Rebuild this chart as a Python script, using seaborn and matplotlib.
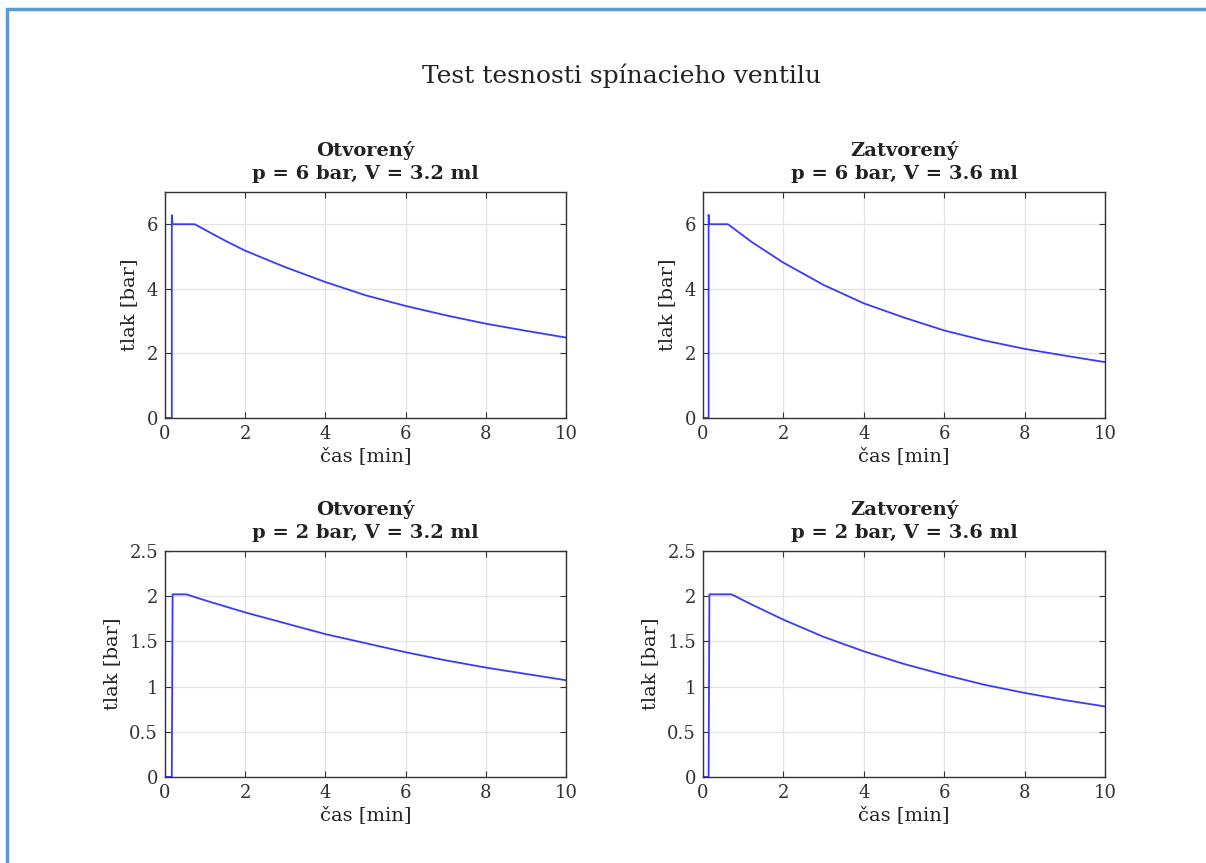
import pandas as pd
import seaborn as sns
import matplotlib.pyplot as plt
from matplotlib.lines import Line2D

# time [min] and pressure [bar]
t_o6 = [0, 0.17, 0.17, 0.19, 0.74, 1.5, 2, 3, 4, 5, 6, 7, 8, 9, 10]
p_o6 = [0, 0, 6.28, 6.0, 6.0, 5.49, 5.18, 4.67, 4.21, 3.80, 3.47, 3.18, 2.92, 2.70, 2.49]

t_z6 = [0, 0.14, 0.14, 0.16, 0.62, 1.2, 2, 3, 4, 5, 6, 7, 8, 9, 10]
p_z6 = [0, 0, 6.29, 6.0, 6.0, 5.46, 4.81, 4.12, 3.55, 3.11, 2.71, 2.40, 2.14, 1.93, 1.73]

t_o2 = [0, 0.17, 0.19, 0.53, 1.1, 2, 3, 4, 5, 6, 7, 8, 9, 10]
p_o2 = [0, 0, 2.02, 2.02, 1.94, 1.82, 1.70, 1.58, 1.48, 1.38, 1.29, 1.21, 1.14, 1.07]

t_z2 = [0, 0.14, 0.16, 0.71, 1.2, 2, 3, 4, 5, 6, 7, 8, 9, 10]
p_z2 = [0, 0, 2.02, 2.02, 1.91, 1.74, 1.55, 1.39, 1.25, 1.13, 1.02, 0.93, 0.85, 0.78]

titles = ["Otvorený\np = 6 bar, V = 3.2 ml", "Zatvorený\np = 6 bar, V = 3.6 ml",
          "Otvorený\np = 2 bar, V = 3.2 ml", "Zatvorený\np = 2 bar, V = 3.6 ml"]
series = [(t_o6, p_o6), (t_z6, p_z6), (t_o2, p_o2), (t_z2, p_z2)]
ylims = [(0, 7), (0, 7), (0, 2.5), (0, 2.5)]
yticks = [[0, 2, 4, 6], [0, 2, 4, 6], [0, 0.5, 1, 1.5, 2, 2.5], [0, 0.5, 1, 1.5, 2, 2.5]]
yticklabels = [["0", "2", "4", "6"], ["0", "2", "4", "6"],
               ["0", "0.5", "1", "1.5", "2", "2.5"], ["0", "0.5", "1", "1.5", "2", "2.5"]]

sns.set_theme(style="whitegrid")
plt.rcParams['font.family'] = ['DejaVu Serif']

fig = plt.figure(figsize=(12.06, 8.63), dpi=100)
fig.patch.set_facecolor("white")

# axes positions [left, bottom, width, height]
pos = [[0.1368, 0.5157, 0.3325, 0.2619],
       [0.5829, 0.5157, 0.3333, 0.2619],
       [0.1368, 0.0997, 0.3325, 0.2619],
       [0.5829, 0.0997, 0.3333, 0.2619]]

for i in range(4):
    ax = fig.add_axes(pos[i])
    df = pd.DataFrame({"t": series[i][0], "p": series[i][1]})
    sns.lineplot(data=df, x="t", y="p", ax=ax, color="#3a3aff", linewidth=1.3,
                 sort=False, estimator=None)
    ax.set_xlim(0, 10)
    ax.set_ylim(*ylims[i])
    ax.set_xticks([0, 2, 4, 6, 8, 10])
    ax.set_xticklabels(["0", "2", "4", "6", "8", "10"])
    ax.set_yticks(yticks[i])
    ax.set_yticklabels(yticklabels[i])
    ax.set_xlabel("čas [min]", fontsize=14, color="#222222", labelpad=3)
    ax.set_ylabel("tlak [bar]", fontsize=14, color="#222222", labelpad=6)
    ax.set_title(titles[i], fontsize=14, fontweight="bold", color="#222222",
                 linespacing=1.4, pad=9)
    ax.grid(True, color="#e3e3e3", linewidth=0.9)
    for s in ax.spines.values():
        s.set_visible(True)
        s.set_color("#333333")
        s.set_linewidth(1.0)
    ax.tick_params(direction="in", length=4, width=0.8, colors="#333333",
                   labelsize=13, labelcolor="#333333", top=True, right=True,
                   bottom=True, left=True, pad=5)

fig.text(0.515, 0.912, "Test tesnosti spínacieho ventilu", ha="center", va="center",
         fontsize=18, color="#222222")

# light blue frame on the left and top edges
fig.add_artist(Line2D([0.0062, 0.0062], [0, 0.9896], transform=fig.transFigure,
                      color="#5b9bd5", linewidth=2.5))
fig.add_artist(Line2D([0.0062, 1], [0.9896, 0.9896], transform=fig.transFigure,
                      color="#5b9bd5", linewidth=2.5))

fig.savefig("out.png", dpi=100)
